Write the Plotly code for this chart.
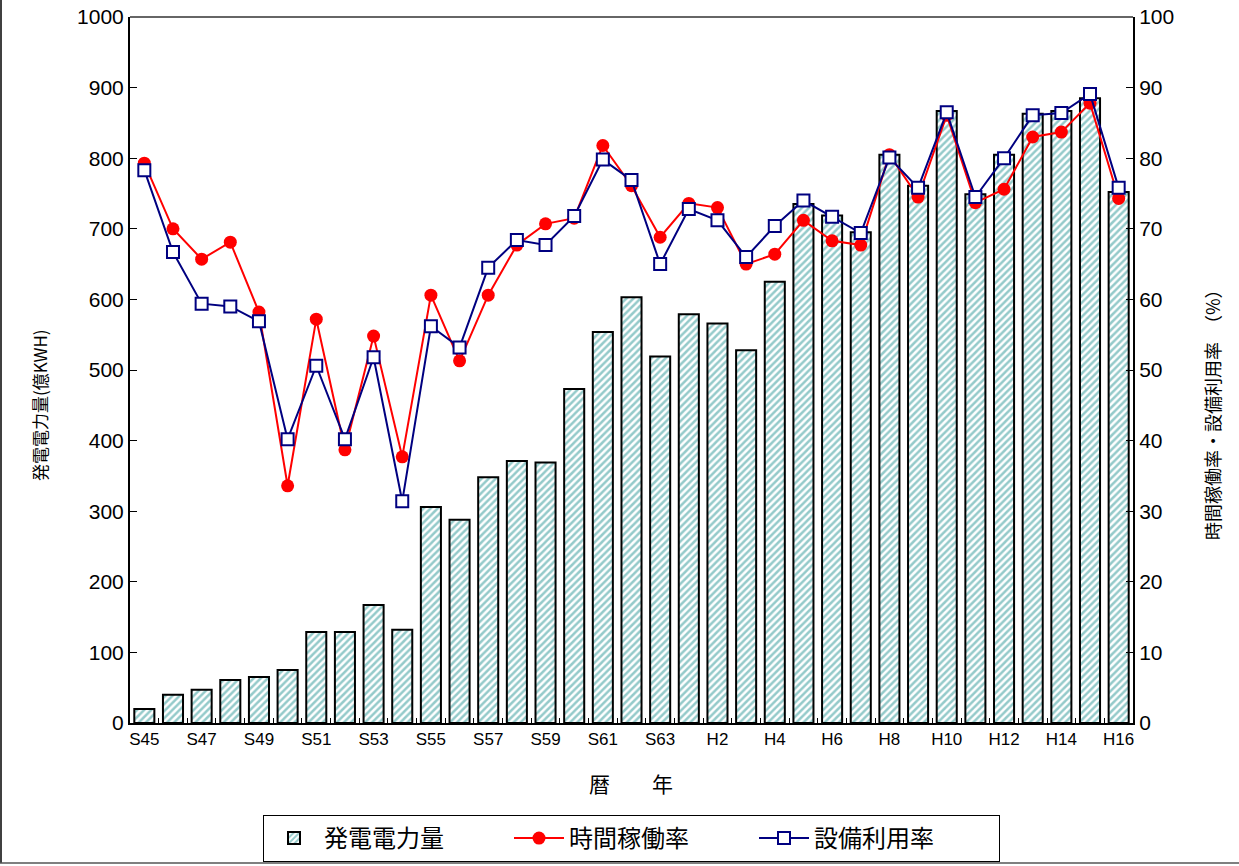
import plotly.graph_objects as go

years = ["S45","S46","S47","S48","S49","S50","S51","S52","S53","S54",
         "S55","S56","S57","S58","S59","S60","S61","S62","S63",
         "H1","H2","H3","H4","H5","H6","H7","H8","H9","H10",
         "H11","H12","H13","H14","H15","H16"]

generation = [20, 40, 47, 61, 65, 75, 129, 129, 167, 132,
              306, 288, 348, 371, 369, 473, 554, 603, 519,
              579, 566, 528, 625, 735, 719, 695, 805, 761, 867,
              749, 805, 863, 867, 885, 752]

operating_rate = [79.3, 70.0, 65.7, 68.1, 58.2, 33.6, 57.2, 38.7, 54.8, 37.7,
                  60.6, 51.3, 60.6, 67.7, 70.7, 71.5, 81.8, 76.1, 68.8,
                  73.6, 73.0, 65.0, 66.4, 71.2, 68.3, 67.7, 80.5, 74.5, 86.1,
                  73.7, 75.6, 83.0, 83.7, 87.8, 74.3]

capacity_factor = [78.3, 66.7, 59.4, 59.0, 56.9, 40.2, 50.6, 40.2, 51.8, 31.4,
                   56.2, 53.2, 64.5, 68.4, 67.7, 71.8, 79.8, 76.9, 65.0,
                   72.8, 71.2, 66.0, 70.4, 74.0, 71.7, 69.4, 80.1, 75.8, 86.5,
                   74.5, 80.0, 86.1, 86.4, 89.1, 75.8]

tick_text = [y if i % 2 == 0 else "" for i, y in enumerate(years)]

FONT = "Arial, 'Liberation Sans', 'Noto Sans CJK JP', sans-serif"
JFONT = "'Noto Sans CJK JP', Arial, sans-serif"

W, H = 1239, 866
L, R, T, B = 130, 1133, 17, 723

def px(x):
    return (x - L) / (R - L)

def py(y):
    return (B - y) / (B - T)

fig = go.Figure()

fig.add_trace(go.Bar(
    x=years, y=generation, name="発電電力量",
    width=0.7,
    marker=dict(
        color="white",
        line=dict(color="black", width=2),
        pattern=dict(shape="/", fgcolor="#2a9696", bgcolor="white",
                     size=5, solidity=0.5, fillmode="overlay"),
    ),
    yaxis="y",
))

fig.add_trace(go.Scatter(
    x=years, y=operating_rate, name="時間稼働率",
    mode="lines+markers",
    line=dict(color="#FF0000", width=2),
    marker=dict(symbol="circle", size=13, color="#FF0000"),
    yaxis="y2",
))

fig.add_trace(go.Scatter(
    x=years, y=capacity_factor, name="設備利用率",
    mode="lines+markers",
    line=dict(color="#000080", width=2),
    marker=dict(symbol="square", size=12, color="white",
                line=dict(color="#000080", width=2)),
    yaxis="y2",
))

fig.update_layout(
    width=W, height=H,
    margin=dict(l=L, r=W - R, t=T, b=H - B, autoexpand=False),
    paper_bgcolor="white", plot_bgcolor="white",
    font=dict(family=FONT, color="black", size=18),
    showlegend=True,
    legend=dict(
        orientation="h", x=0.5, xanchor="center", y=py(815), yanchor="top",
        bordercolor="black", borderwidth=1,
        font=dict(family=JFONT, size=24),
        itemwidth=50, entrywidth=180,
        traceorder="normal",
    ),
    bargap=0.3,
    xaxis=dict(
        type="category", automargin=False,
        tickmode="array", tickvals=years, ticktext=tick_text,
        tickson="boundaries", tickangle=0,
        ticks="inside", ticklen=5, tickcolor="black", tickwidth=1,
        tickfont=dict(size=17, family=FONT),
        showline=True, linecolor="black", linewidth=2,
        showgrid=False, zeroline=False,
        range=[-0.5, len(years) - 0.5],
    ),
    yaxis=dict(
        range=[0, 1000], dtick=100, tick0=0, automargin=False,
        ticks="inside", ticklen=7, tickcolor="black",
        tickfont=dict(size=21, family=FONT),
        showline=True, linecolor="black", linewidth=2,
        showgrid=False, zeroline=False,
    ),
    yaxis2=dict(
        range=[0, 100], dtick=10, tick0=0, automargin=False,
        overlaying="y", side="right",
        ticks="inside", ticklen=7, tickcolor="black",
        tickfont=dict(size=21, family=FONT),
        showline=True, linecolor="black", linewidth=2,
        showgrid=False, zeroline=False,
    ),
)

# plot top border
fig.add_shape(type="line", xref="paper", yref="paper",
              x0=0, x1=1, y0=1, y1=1, line=dict(color="#666666", width=2))
# outer frame (left and bottom edges of the image)
fig.add_shape(type="line", xref="paper", yref="paper",
              x0=px(1), x1=px(1), y0=py(0), y1=py(863),
              line=dict(color="black", width=1.5))
fig.add_shape(type="line", xref="paper", yref="paper",
              x0=px(0), x1=px(1239), y0=py(863), y1=py(863),
              line=dict(color="#555555", width=1.5))

# axis titles
fig.add_annotation(text="発電電力量(億KWH)", xref="paper", yref="paper",
                   x=px(40), y=py(405), showarrow=False, textangle=-90,
                   font=dict(family=JFONT, size=17), xanchor="center", yanchor="middle")
fig.add_annotation(text="時間稼働率・設備利用率　（%）", xref="paper", yref="paper",
                   x=px(1212), y=py(410), showarrow=False, textangle=-90,
                   font=dict(family=JFONT, size=18), xanchor="center", yanchor="middle")
fig.add_annotation(text="暦　　年", xref="paper", yref="paper",
                   x=px(631), y=py(783), showarrow=False,
                   font=dict(family=JFONT, size=21), xanchor="center", yanchor="middle")

fig.write_html("out.html",
               config={"displayModeBar": False},
               post_script="document.body.style.margin='0';document.body.style.overflow='hidden';")
